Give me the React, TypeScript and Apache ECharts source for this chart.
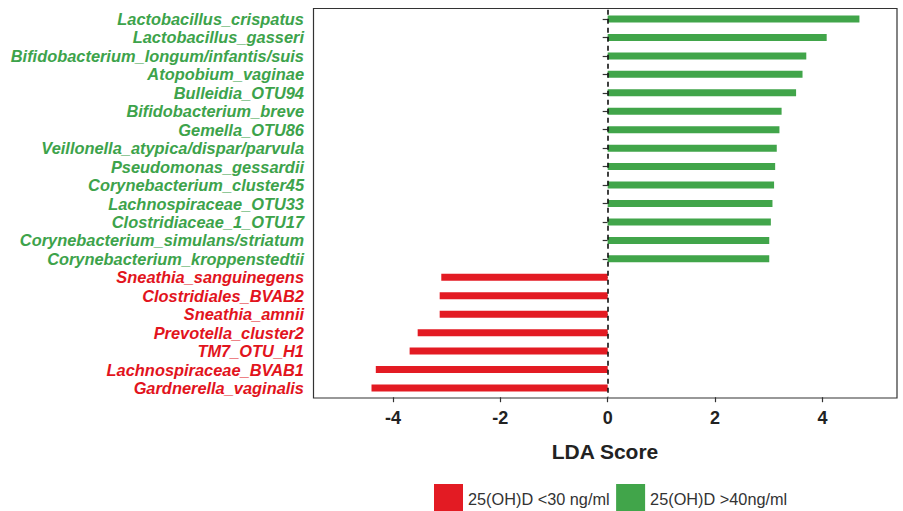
import React, { useEffect, useRef } from "react";
import * as echarts from "echarts";

const categories = [
  "Lactobacillus_crispatus",
  "Lactobacillus_gasseri",
  "Bifidobacterium_longum/infantis/suis",
  "Atopobium_vaginae",
  "Bulleidia_OTU94",
  "Bifidobacterium_breve",
  "Gemella_OTU86",
  "Veillonella_atypica/dispar/parvula",
  "Pseudomonas_gessardii",
  "Corynebacterium_cluster45",
  "Lachnospiraceae_OTU33",
  "Clostridiaceae_1_OTU17",
  "Corynebacterium_simulans/striatum",
  "Corynebacterium_kroppenstedtii",
  "Sneathia_sanguinegens",
  "Clostridiales_BVAB2",
  "Sneathia_amnii",
  "Prevotella_cluster2",
  "TM7_OTU_H1",
  "Lachnospiraceae_BVAB1",
  "Gardnerella_vaginalis",
];

const ldaScores = [
  4.69, 4.08, 3.7, 3.63, 3.51, 3.24, 3.2, 3.15, 3.12, 3.1, 3.07, 3.04, 3.01, 3.01,
  -3.1, -3.13, -3.13, -3.54, -3.69, -4.32, -4.4,
];

const groupNames = ["25(OH)D <30 ng/ml", "25(OH)D >40ng/ml"];
const xTicks = [-4, -2, 0, 2, 4];

const RED = "#E31B23";
const GREEN = "#41A54A";
const RED_TEXT = "#E2141D";
const GREEN_TEXT = "#3DA34B";
const FONT = "'Liberation Sans', Arial, Helvetica, sans-serif";

export default function App() {
  const ref = useRef<HTMLDivElement>(null);
  useEffect(() => {
    if (!ref.current) return;
    const chart = echarts.init(ref.current, null, { renderer: "svg" });
    const redData = ldaScores.map((v) => (v < 0 ? v : "-"));
    const greenData = ldaScores.map((v) => (v >= 0 ? v : "-"));
    chart.setOption({
      animation: false,
      backgroundColor: "#ffffff",
      grid: { left: 313, right: 6, top: 9.8, bottom: 113.8, containLabel: false },
      graphic: [
        {
          type: "rect",
          shape: { x: 313.5, y: 8.5, width: 583.5, height: 389.5 },
          style: { fill: "none", stroke: "#333333", lineWidth: 1.2 },
          silent: true,
          z: 10,
        },
      ],
      legend: {
        data: groupNames,
        left: 429,
        top: 479,
        itemWidth: 29,
        itemHeight: 29,
        itemGap: 6.5,
        icon: "rect",
        textStyle: { fontFamily: FONT, fontSize: 16.3, color: "#333333" },
      },
      xAxis: {
        type: "value",
        min: -5.49,
        max: 5.39,
        name: "LDA Score",
        nameLocation: "middle",
        nameGap: 44,
        nameTextStyle: { fontFamily: FONT, fontSize: 21, fontWeight: "bold", color: "#222222" },
        axisLine: { show: false },
        splitLine: { show: false },
        axisTick: {
          show: true,
          length: 5,
          customValues: xTicks,
          lineStyle: { color: "#333333", width: 1.2 },
        },
        axisLabel: {
          customValues: xTicks,
          margin: 12,
          fontFamily: FONT,
          fontSize: 18,
          fontWeight: "bold",
          color: "#222222",
          formatter: (v: number) => (v < 0 ? "-" + Math.abs(v) : String(v)),
        },
      },
      yAxis: {
        type: "category",
        data: categories,
        inverse: true,
        axisLine: { show: false },
        splitLine: { show: false },
        axisTick: {
          show: true,
          interval: 0,
          alignWithLabel: true,
          length: 5,
          lineStyle: { color: "#333333", width: 1.2 },
        },
        axisLabel: {
          interval: 0,
          hideOverlap: false,
          margin: 9,
          fontFamily: FONT,
          fontSize: 16.4,
          fontWeight: "bold",
          fontStyle: "italic",
          color: (v: string) => (ldaScores[categories.indexOf(v)] < 0 ? RED_TEXT : GREEN_TEXT),
        },
      },
      series: [
        {
          name: groupNames[0],
          type: "bar",
          data: redData,
          barWidth: 7,
          barGap: "-100%",
          itemStyle: { color: RED },
          markLine: {
            silent: true,
            symbol: "none",
            label: { show: false },
            lineStyle: { color: "#111111", type: [5, 4], width: 1.6 },
            data: [{ xAxis: 0 }],
          },
        },
        {
          name: groupNames[1],
          type: "bar",
          data: greenData,
          barWidth: 7,
          barGap: "-100%",
          itemStyle: { color: GREEN },
        },
      ],
    });
    return () => chart.dispose();
  }, []);
  return (
    <div
      ref={ref}
      style={{ position: "fixed", left: 0, top: 0, width: 903, height: 511, overflow: "hidden" }}
    />
  );
}
